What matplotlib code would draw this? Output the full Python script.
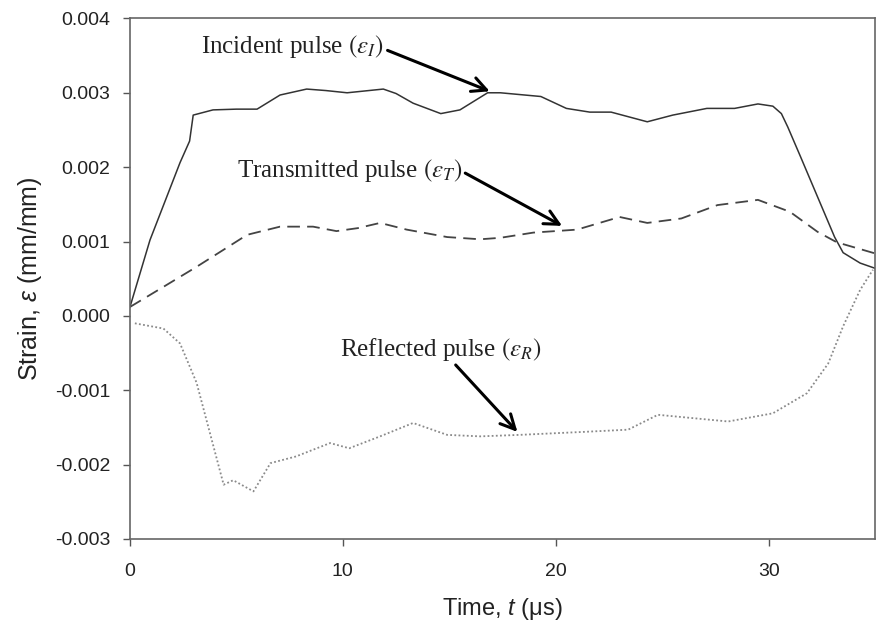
import numpy as np
import matplotlib
matplotlib.use("Agg")
import matplotlib.pyplot as plt

plt.rcParams['font.family'] = ['Liberation Sans', 'DejaVu Sans']
plt.rcParams['axes.unicode_minus'] = False
plt.rcParams['mathtext.fontset'] = 'custom'
plt.rcParams['mathtext.rm'] = 'Liberation Sans'
plt.rcParams['mathtext.it'] = 'Liberation Sans:italic'

# Incident pulse (solid)
t_inc = [0, 0.94, 2.35, 2.8, 2.97, 3.9, 5.0, 5.97, 7.05, 8.3, 9.2, 10.2, 11.9, 12.5, 13.3, 14.6,
         15.5, 16.8, 17.4, 19.3, 20.5, 21.6, 22.6, 24.3, 25.5, 27.1, 28.4, 29.5,
         30.2, 30.6, 30.9, 31.5, 32.3, 33.1, 33.5, 34.3, 35.0]
e_inc = [0.12, 1.02, 2.06, 2.35, 2.70, 2.77, 2.78, 2.78, 2.97, 3.05, 3.03, 3.00, 3.05, 2.99, 2.86, 2.72,
         2.77, 3.00, 3.00, 2.95, 2.79, 2.74, 2.74, 2.61, 2.70, 2.79, 2.79, 2.85,
         2.82, 2.72, 2.54, 2.14, 1.60, 1.06, 0.85, 0.71, 0.64]

# Transmitted pulse (dashed)
t_tra = [0, 1.57, 3.13, 4.4, 5.5, 7.05, 8.6, 9.7, 10.7, 11.75, 13.0, 14.9, 16.45,
         17.4, 18.95, 21.0, 23.0, 24.3, 25.9, 27.6, 29.5, 31.0, 32.3, 33.2, 35.0]
e_tra = [0.12, 0.39, 0.66, 0.89, 1.09, 1.20, 1.20, 1.14, 1.18, 1.25, 1.16, 1.06, 1.03,
         1.05, 1.12, 1.16, 1.33, 1.25, 1.31, 1.49, 1.56, 1.40, 1.13, 0.99, 0.84]

# Reflected pulse (dotted)
t_ref = [0.23, 1.57, 2.35, 3.13, 3.76, 4.4, 4.85, 5.8, 6.6, 7.8, 9.4, 10.3, 11.75,
         13.3, 14.9, 16.45, 18.3, 21.3, 23.4, 24.8, 28.1, 30.2, 31.8, 32.8, 33.5,
         34.3, 34.9]
e_ref = [-0.10, -0.17, -0.37, -0.90, -1.58, -2.27, -2.21, -2.36, -1.98, -1.89, -1.71,
         -1.78, -1.62, -1.44, -1.60, -1.62, -1.60, -1.56, -1.53, -1.33, -1.42, -1.31,
         -1.04, -0.64, -0.14, 0.35, 0.62]

# labels: text, text position, arrow start, arrow tip
labels = ['Incident pulse $(\\varepsilon_I)$',
          'Transmitted pulse $(\\varepsilon_T)$',
          'Reflected pulse $(\\varepsilon_R)$']
label_pos = [(3.35, 0.00362), (5.05, 0.00196), (9.85, -0.00045)]
arrow_from = [(12.1, 0.00357), (15.75, 0.00192), (15.3, -0.00066)]
arrow_to = [(16.9, 0.00302), (20.3, 0.00121), (18.2, -0.00156)]

fig = plt.figure(figsize=(8.83, 6.35), dpi=100)
ax = fig.add_axes([0.1472, 0.1512, 0.8438, 0.8198])

ax.plot(t_inc, np.array(e_inc) * 1e-3, color='#333333', lw=1.1)
l2, = ax.plot(t_tra, np.array(e_tra) * 1e-3, color='#444444', lw=1.3)
l2.set_dashes([7, 4])
ax.plot(t_ref, np.array(e_ref) * 1e-3, color='#8a8a8a', lw=1.3, linestyle=(0, (1, 1.3)))

ax.set_xlim(0, 35)
ax.set_ylim(-0.003, 0.004)
ax.set_xticks([0, 10, 20, 30])
ax.set_yticks(np.arange(-0.003, 0.0041, 0.001))
ax.yaxis.set_major_formatter(plt.FuncFormatter(lambda v, p: f"{v:.3f}".replace("-0.000", "0.000")))
ax.tick_params(direction='out', length=5, width=1, colors='#555555', labelcolor='#222222', labelsize=14)
ax.tick_params(axis='y', pad=9)
ax.tick_params(axis='x', pad=12)
for s in ax.spines.values():
    s.set_color('#666666')
    s.set_linewidth(1.2)

ax.set_xlabel('Time, $\\mathit{t}$ (μs)', fontsize=17, color='#222222', labelpad=12)
ax.set_ylabel('Strain, $\\mathit{\\varepsilon}$ (mm/mm)', fontsize=18, color='#222222', labelpad=8)

for lab, pos, a0, a1 in zip(labels, label_pos, arrow_from, arrow_to):
    ax.text(pos[0], pos[1], lab, fontsize=18, family='Liberation Serif', math_fontfamily='stix',
            color='#222222', va='center', ha='left')
    ax.annotate('', xy=a1, xytext=a0,
                arrowprops=dict(arrowstyle='->', lw=2.2, color='black', mutation_scale=26,
                                shrinkA=0, shrinkB=0))

fig.savefig('out.png', dpi=100)
